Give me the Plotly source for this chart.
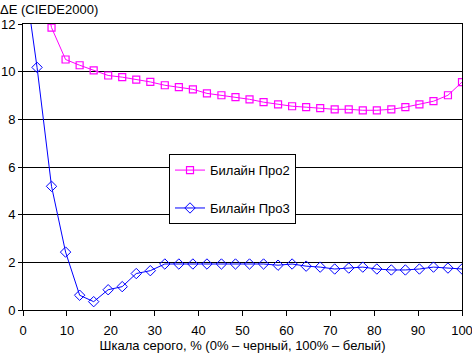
import plotly.graph_objects as go

x_vals = [0, 3.2, 6.5, 9.7, 12.9, 16.1, 19.4, 22.6, 25.8, 29.0, 32.3, 35.5, 38.7, 41.9, 45.2, 48.4,
          51.6, 54.8, 58.1, 61.3, 64.5, 67.7, 71.0, 74.2, 77.4, 80.6, 83.9, 87.1, 90.3, 93.5, 96.8, 100]
pro2 = [18.0, 14.6, 11.85, 10.51, 10.27, 10.05, 9.84, 9.77, 9.67, 9.57, 9.43, 9.35, 9.26, 9.09, 9.01, 8.93,
        8.84, 8.72, 8.63, 8.55, 8.51, 8.47, 8.42, 8.42, 8.38, 8.38, 8.42, 8.51, 8.63, 8.76, 9.01, 9.56]
pro3 = [14.4, 10.18, 5.19, 2.43, 0.62, 0.35, 0.85, 0.98, 1.53, 1.65, 1.93, 1.93, 1.93, 1.93, 1.93, 1.93,
        1.93, 1.93, 1.88, 1.93, 1.84, 1.80, 1.72, 1.76, 1.80, 1.72, 1.68, 1.68, 1.72, 1.80, 1.76, 1.72]
names = ["Билайн Про2", "Билайн Про3"]
x_ticks = [0, 10, 20, 30, 40, 50, 60, 70, 80, 90, 100]
y_ticks = [0, 2, 4, 6, 8, 10, 12]

FONT = "Liberation Sans, Arial, sans-serif"
FS = 13

fig = go.Figure()
fig.add_trace(go.Scatter(
    x=x_vals, y=pro2, name=names[0], mode="lines+markers", legendgroup="a",
    line=dict(color="#FF00FF", width=1),
    marker=dict(symbol="square-open", size=7, color="#FF00FF", line=dict(width=1.2)),
))
fig.add_trace(go.Scatter(
    x=x_vals, y=pro3, name=names[1], mode="lines+markers", legendgroup="b",
    line=dict(color="#0000FF", width=1),
    marker=dict(symbol="diamond-open", size=8, color="#0000FF", line=dict(width=1)),
))

fig.update_layout(
    width=472, height=353,
    margin=dict(l=23, r=10, t=24, b=43, autoexpand=False),
    paper_bgcolor="white", plot_bgcolor="white",
    font=dict(family=FONT, size=FS, color="black"),
    showlegend=True,
    legend=dict(
        x=0.3326, y=0.545, xanchor="left", yanchor="top",
        bgcolor="white", bordercolor="black", borderwidth=1,
        font=dict(family=FONT, size=FS, color="black"),
        traceorder="grouped", tracegroupgap=18,
    ),
    xaxis=dict(
        range=[0, 100], tickvals=x_ticks, ticks="outside", ticklen=5, tickcolor="black",
        showline=True, linecolor="black", linewidth=1, mirror=True,
        showgrid=False, zeroline=False, automargin=False,
        ticklabeloverflow="allow", ticklabelstandoff=3,
        title=dict(text="Шкала серого, % (0% – черный, 100% – белый)", standoff=5,
                   font=dict(family=FONT, size=FS)),
        tickfont=dict(family=FONT, size=FS),
    ),
    yaxis=dict(
        range=[0, 12], tickvals=y_ticks, ticks="outside", ticklen=4, tickcolor="black",
        showline=True, linecolor="black", linewidth=1, mirror=True,
        showgrid=True, gridcolor="black", gridwidth=1, zeroline=False, automargin=False,
        ticklabeloverflow="allow",
        tickfont=dict(family=FONT, size=FS),
    ),
    annotations=[dict(
        text="ΔE (CIEDE2000)", xref="paper", yref="paper", x=-0.0524, y=1.0,
        xanchor="left", yanchor="bottom", yshift=5, xshift=-2, showarrow=False,
        font=dict(family=FONT, size=FS, color="black"),
    )],
)

fig.write_html("out.html")
